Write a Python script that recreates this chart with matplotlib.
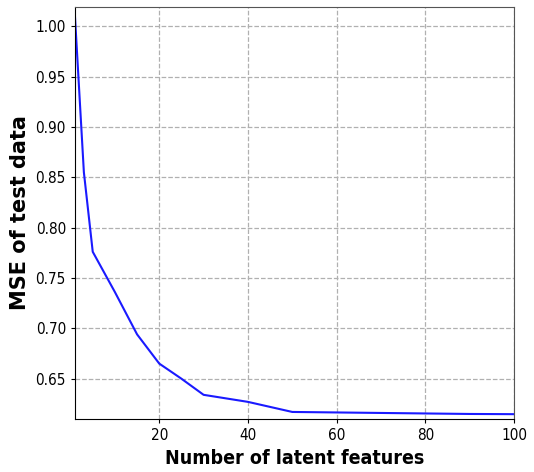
import matplotlib
matplotlib.use("Agg")
import matplotlib.pyplot as plt

# latent feature counts and test MSE
n_features = [1, 3, 5, 10, 15, 20, 25, 30, 40, 50, 60, 70, 80, 90, 100]
mse = [1.009, 0.855, 0.776, 0.736, 0.694, 0.665, 0.650, 0.634, 0.627, 0.617,
       0.6165, 0.616, 0.6155, 0.615, 0.6148]

fig = plt.figure(figsize=(5.34, 4.72), dpi=100)
ax = fig.add_axes([75/534, 1-419/472, (514-75)/534, (419-7)/472])
ax.plot(n_features, mse, color='#1a1aff', linewidth=1.5)
ax.set_xlim(1, 100)
ax.set_ylim(0.610, 1.019)
ax.set_xticks([20, 40, 60, 80, 100])
ax.set_yticks([0.65, 0.70, 0.75, 0.80, 0.85, 0.90, 0.95, 1.00])
ax.grid(True, linestyle='--', color='#b0b0b0', linewidth=0.9)
ax.tick_params(labelsize=11, length=3)
for lab in ax.get_xticklabels() + ax.get_yticklabels():
    lab.set_fontstretch('condensed')
for s in ['top', 'right']:
    ax.spines[s].set_color('#555555')
plt.xlabel('Number of latent features', fontsize=14, fontweight='bold', fontstretch='condensed')
plt.ylabel('MSE of test data', fontsize=15, fontweight='bold')
plt.savefig("out.png", dpi=100)
